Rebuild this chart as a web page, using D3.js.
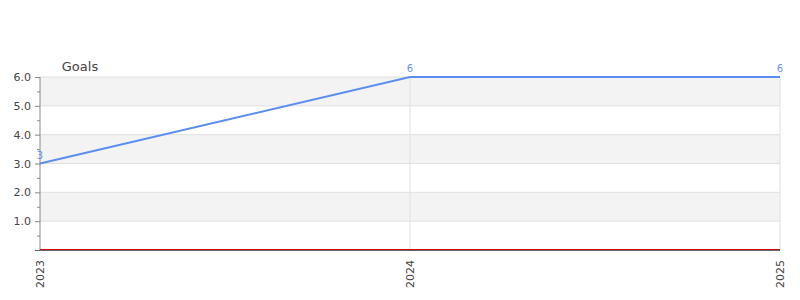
<!DOCTYPE html>
<html>
<head>
<meta charset="utf-8">
<script src="https://cdn.jsdelivr.net/npm/d3@7"></script>
<style>
body { margin: 0; background: #fff; }
svg text { font-family: "DejaVu Sans", sans-serif; }
</style>
</head>
<body>
<script>
let years = ["2023", "2024", "2025"];
let goals = [3, 6, 6];
let other = [0, 0, 0];
let yTicks = [1, 2, 3, 4, 5, 6];
let title = "Goals";

let w = 800, h = 300;
let padL = 40, padR = 780, padT = 77, padB = 250;

let svg = d3.select("body").append("svg")
  .attr("width", w)
  .attr("height", h);

let xScale = d3.scalePoint()
  .domain(years)
  .range([padL, padR]);

let yScale = d3.scaleLinear()
  .domain([0, 6])
  .range([padB, padT]);

// alternating bands
svg.append("g").selectAll("rect")
  .data([1, 3, 5])
  .enter().append("rect")
  .attr("x", padL)
  .attr("width", padR - padL)
  .attr("y", d => yScale(d + 1))
  .attr("height", d => yScale(d) - yScale(d + 1))
  .attr("fill", "#f3f3f3");

// grid
svg.append("g").selectAll("line")
  .data(yTicks)
  .enter().append("line")
  .attr("x1", padL).attr("x2", padR)
  .attr("y1", d => yScale(d)).attr("y2", d => yScale(d))
  .attr("stroke", "#e0e0e0");

svg.append("g").selectAll("line")
  .data(years.slice(1))
  .enter().append("line")
  .attr("x1", d => xScale(d)).attr("x2", d => xScale(d))
  .attr("y1", padT).attr("y2", padB)
  .attr("stroke", "#e0e0e0");

// y axis
let yAxis = d3.axisLeft(yScale)
  .tickValues(yTicks)
  .tickFormat(d3.format(".1f"))
  .tickSize(5)
  .tickPadding(4);

let yMinor = d3.axisLeft(yScale)
  .tickValues(d3.range(0.5, 6, 1))
  .tickFormat("")
  .tickSize(3);

let yg = svg.append("g")
  .attr("transform", "translate(" + padL + ",0)")
  .call(yAxis);
yg.select(".domain").attr("stroke", "#888").attr("d", "M0," + padT + "V" + padB);
yg.selectAll(".tick line").attr("stroke", "#888");
yg.selectAll(".tick text").attr("fill", "#444").style("font-size", "11px");

let ym = svg.append("g")
  .attr("transform", "translate(" + padL + ",0)")
  .call(yMinor);
ym.select(".domain").remove();
ym.selectAll(".tick line").attr("stroke", "#888");

// x axis
let xAxis = d3.axisBottom(xScale)
  .tickSize(0)
  .tickPadding(6);

let xg = svg.append("g")
  .attr("transform", "translate(0," + padB + ")")
  .call(xAxis);
xg.select(".domain").attr("stroke", "#666").attr("d", "M" + (padL - 5) + ",0.5H" + padR);
xg.selectAll(".tick text")
  .attr("fill", "#444")
  .style("font-size", "11px")
  .attr("transform", "rotate(-90)")
  .attr("text-anchor", "end")
  .attr("x", -10)
  .attr("y", 0)
  .attr("dy", "0.35em");

// series
let line = d3.line()
  .x((d, i) => xScale(years[i]))
  .y(d => yScale(d));

svg.append("path")
  .datum(other)
  .attr("d", line)
  .attr("fill", "none")
  .attr("stroke", "#d01010")
  .attr("stroke-width", 1)
  .attr("transform", "translate(0,-0.5)");

svg.append("path")
  .datum(goals)
  .attr("d", line)
  .attr("fill", "none")
  .attr("stroke", "#5b8def")
  .attr("stroke-width", 2);

svg.append("g").selectAll("text")
  .data(goals)
  .enter().append("text")
  .attr("x", (d, i) => xScale(years[i]))
  .attr("y", d => yScale(d) - 5)
  .attr("text-anchor", "middle")
  .attr("fill", "#6a96e8")
  .style("font-size", "10px")
  .text(d => d);

svg.append("text")
  .attr("x", 80)
  .attr("y", 71)
  .attr("text-anchor", "middle")
  .attr("fill", "#444")
  .style("font-size", "13px")
  .text(title);
</script>
</body>
</html>
